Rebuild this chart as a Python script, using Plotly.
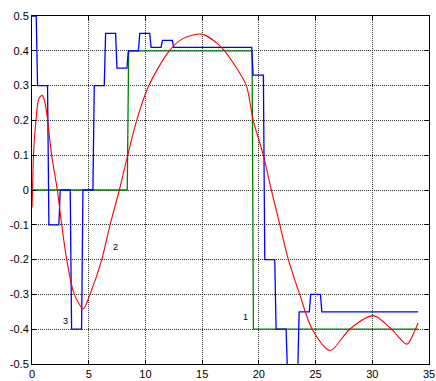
import plotly.graph_objects as go

# ---- data ----
# blue: sample-and-hold signal (switch times and held levels)
blue_switch = [0.37, 1.37, 2.37, 3.37, 4.37, 5.37, 6.37, 7.37, 8.37, 9.38, 10.38,
               11.38, 12.37, 19.37, 20.4, 21.4, 22.4, 23.43, 24.45, 25.43]
blue_levels = [0.5, 0.3, -0.1, 0.0, -0.4, 0.0, 0.3, 0.45, 0.35, 0.4, 0.45,
               0.41, 0.43, 0.41, 0.33, -0.2, -0.4, -0.52, -0.35, -0.3, -0.35]
# green: reference step signal
green_switch = [8.4, 19.4]
green_levels = [0.0, 0.4, -0.4]
t_end = 34.04

# red: smooth response curve
red_x = [0, 0.05, 0.13, 0.35, 0.6, 0.91, 1.15, 1.38, 1.73, 2.23, 2.62, 3.06, 3.73,
         4.53, 5.11, 6.15, 6.88, 7.7, 8.44, 9.23, 10.3, 12.1, 13.3, 14.96, 16.7,
         18.05, 18.9, 19.5, 20.4, 21.1, 21.85, 22.6, 23.6, 24.7, 26.3, 28.0, 30.1,
         31.7, 33.05, 33.8, 34.04]
red_y = [-0.05, 0.0, 0.1, 0.2, 0.262, 0.272, 0.25, 0.2, 0.1, 0.0, -0.1, -0.2, -0.3,
         -0.341, -0.3, -0.2, -0.1, 0.0, 0.1, 0.2, 0.3, 0.4, 0.435, 0.448, 0.41,
         0.35, 0.3, 0.2, 0.1, 0.0, -0.1, -0.2, -0.3, -0.4, -0.461, -0.4, -0.361,
         -0.4, -0.443, -0.4, -0.382]

labels_text = ["1", "2", "3"]
labels_x = [18.78, 7.32, 2.91]
labels_y = [-0.364, -0.163, -0.376]

x_ticks = [0, 5, 10, 15, 20, 25, 30, 35]
y_ticks = [-0.5, -0.4, -0.3, -0.2, -0.1, 0, 0.1, 0.2, 0.3, 0.4, 0.5]
y_ticktext = ["-0.5", "-0.4", "-0.3", "-0.2", "-0.1", "0", "0.1", "0.2", "0.3", "0.4", "0.5"]

RAMP = 0.12


def hold_path(switches, levels, end):
    xs, ys = [0.0], [levels[0]]
    for t, a, b in zip(switches, levels[:-1], levels[1:]):
        xs += [t, t + RAMP]
        ys += [a, b]
    xs.append(end)
    ys.append(levels[-1])
    return xs, ys


bx, by = hold_path(blue_switch, blue_levels, t_end)
gx, gy = hold_path(green_switch, green_levels, t_end)

fig = go.Figure()
fig.add_trace(go.Scatter(x=gx, y=gy, mode="lines",
                         line=dict(color="#008000", width=1.3), hoverinfo="skip"))
fig.add_trace(go.Scatter(x=bx, y=by, mode="lines",
                         line=dict(color="#0000ff", width=1.3), hoverinfo="skip"))
fig.add_trace(go.Scatter(x=red_x, y=red_y, mode="lines",
                         line=dict(color="#ff0000", width=1.1, shape="spline", smoothing=0.8),
                         hoverinfo="skip"))

for txt, lx, ly in zip(labels_text, labels_x, labels_y):
    fig.add_annotation(x=lx, y=ly, text=txt, showarrow=False,
                       font=dict(family="Liberation Sans, Arial", size=9, color="black"))

axis_common = dict(
    showline=True, linecolor="black", linewidth=1, mirror="ticks",
    ticks="inside", ticklen=4, tickcolor="black", tickwidth=1,
    showgrid=True, gridcolor="#333333", griddash="1px,1px", gridwidth=1,
    zeroline=False, automargin=False,
    tickfont=dict(family="Liberation Sans, Arial", size=11, color="black"),
)

fig.update_layout(
    width=436, height=381,
    margin=dict(l=32, r=7, t=16, b=17),
    paper_bgcolor="white", plot_bgcolor="white",
    showlegend=False,
    xaxis=dict(range=[0, 35], tickvals=x_ticks, **axis_common),
    yaxis=dict(range=[-0.5, 0.5], tickvals=y_ticks, ticktext=y_ticktext, **axis_common),
)

fig.write_html("out.html",
               config={"displayModeBar": False, "staticPlot": True},
               post_script="document.body.style.margin='0';document.body.style.overflow='hidden';")
